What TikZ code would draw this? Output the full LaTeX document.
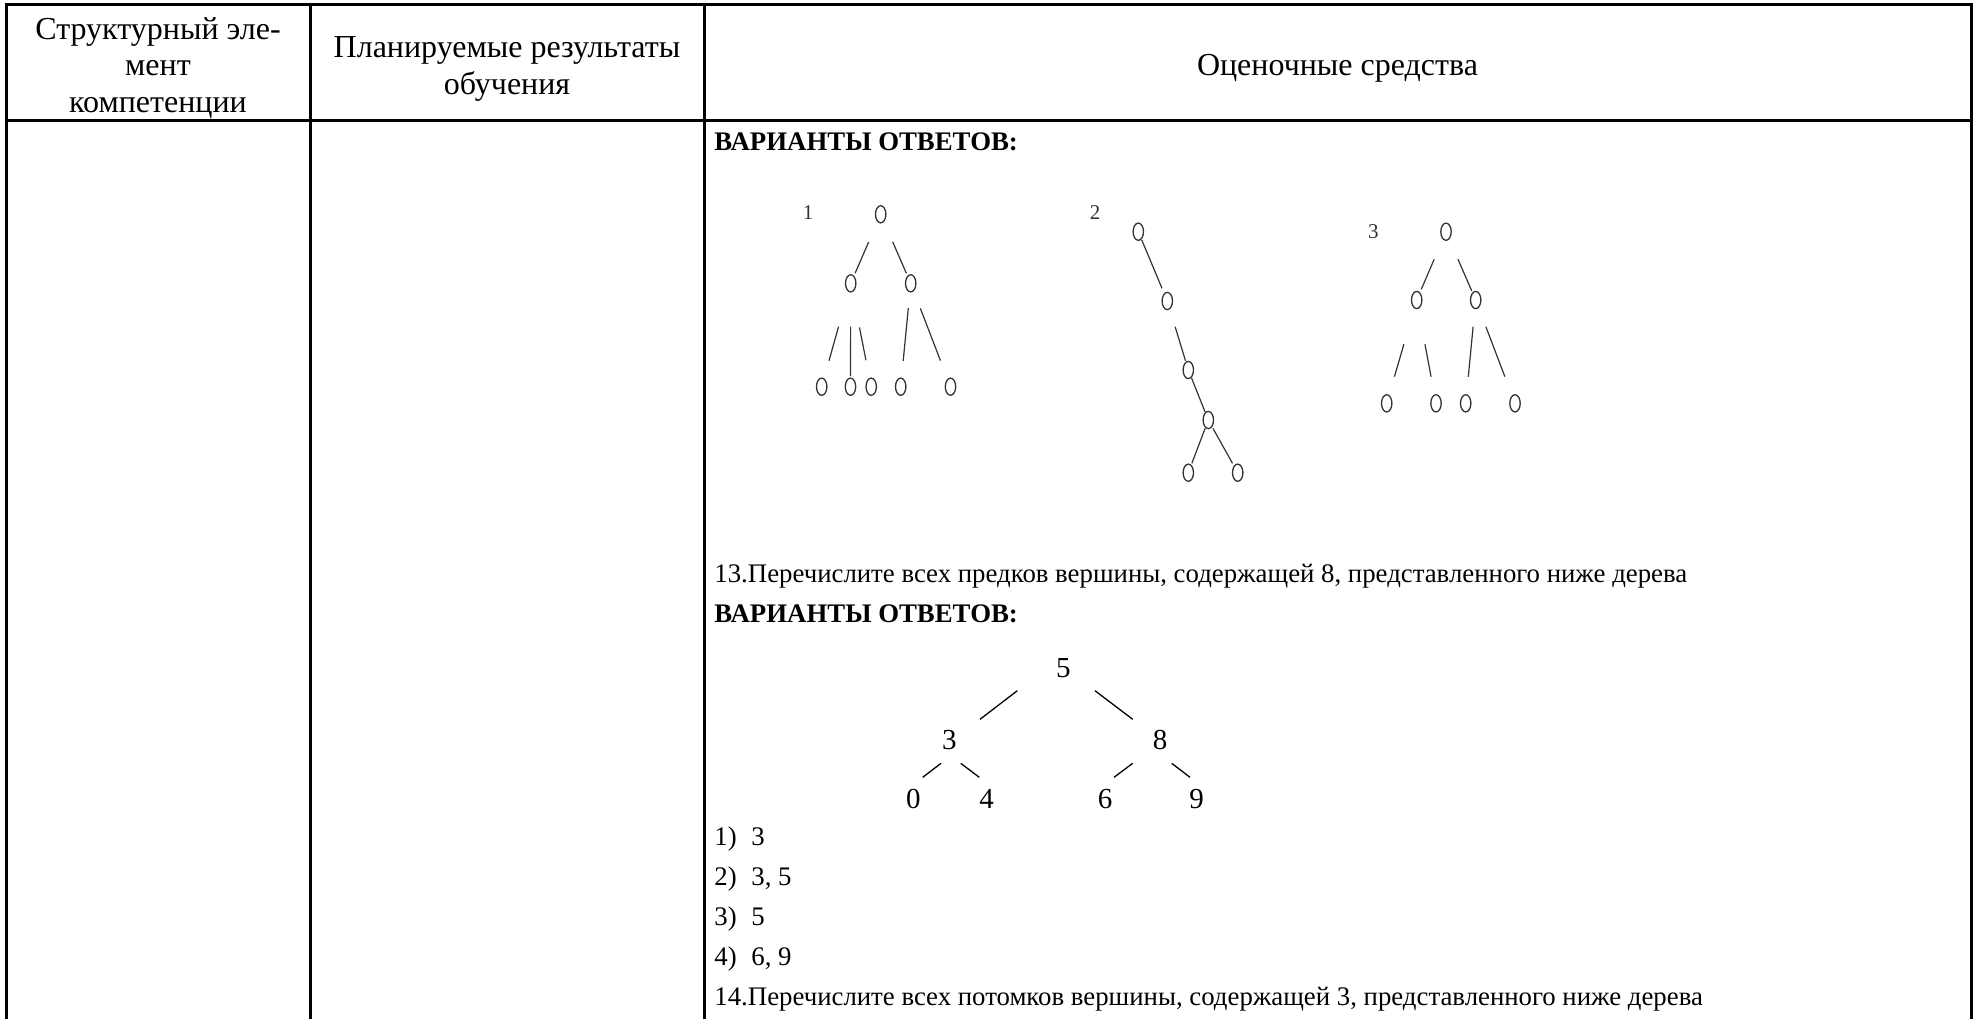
\documentclass[tikz,border=0pt]{standalone}
\usepackage{fontspec}
\setmainfont{Liberation Serif}
\usetikzlibrary{shapes.geometric}
\definecolor{ovgrey}{HTML}{333333}
\begin{document}
\begin{tikzpicture}[x=0.5pt,y=-0.5pt,
  grid/.style={line width=1.5pt, line join=miter},
  hdr/.style={align=center, font=\fontsize{16}{18.2}\selectfont, inner sep=0pt},
  bodytxt/.style={anchor=base west, font=\fontsize{13.4}{16}\selectfont, inner sep=0pt},
  bodybold/.style={anchor=base west, font=\fontsize{13.4}{16}\selectfont\bfseries, inner sep=0pt},
  ov/.style={ellipse, draw=ovgrey, line width=0.65pt, minimum width=5.2pt, minimum height=8.6pt, inner sep=0pt},
  tedge/.style={draw=ovgrey, line width=0.6pt},
  dig/.style={font=\fontsize{14.5}{14.5}\selectfont, inner sep=0pt},
  dedge/.style={line width=0.65pt},
  tlab/.style={font=\fontsize{10.5}{10.5}\selectfont, text=ovgrey, inner sep=0pt}
]
\useasboundingbox (0,0) rectangle (1975,1019);

% table grid
\draw[grid] (6,1019) -- (6,4.5) -- (1971,4.5) -- (1971,1019);
\draw[grid] (310.5,4.5) -- (310.5,1019);
\draw[grid] (704.3,4.5) -- (704.3,1019);
\draw[grid] (6,120.5) -- (1971,120.5);

% header
\node[hdr] (h1) at (158,68) {Структурный эле-\\мент\\компетенции};
\node[hdr] (h2) at (507,69) {Планируемые результаты\\обучения};
\node[hdr] (h3) at (1337.5,68.5) {Оценочные средства};

% body text
\node[bodybold] (v1) at (714,150) {ВАРИАНТЫ ОТВЕТОВ:};
\node[bodytxt] (q13) at (714,582) {13.Перечислите всех предков вершины, содержащей 8, представленного ниже дерева};
\node[bodybold] (v2) at (714,622) {ВАРИАНТЫ ОТВЕТОВ:};
\node[bodytxt] (a1) at (714,845) {\makebox[18.5pt][l]{1)}3};
\node[bodytxt] (a2) at (714,885) {\makebox[18.5pt][l]{2)}3, 5};
\node[bodytxt] (a3) at (714,925) {\makebox[18.5pt][l]{3)}5};
\node[bodytxt] (a4) at (714,965) {\makebox[18.5pt][l]{4)}6, 9};
\node[bodytxt] (q14) at (714,1005) {14.Перечислите всех потомков вершины, содержащей 3, представленного ниже дерева};

% tree 1
\node[tlab] (l1) at (808,213) {1};
\node[ov] (t1r) at (880.7,214.3) {};
\node[ov] (t1a) at (850.7,283.3) {};
\node[ov] (t1b) at (910.7,283.3) {};
\node[ov] (t1c) at (821.7,386.7) {};
\node[ov] (t1d) at (850.5,386.7) {};
\node[ov] (t1e) at (871.2,386.7) {};
\node[ov] (t1f) at (900.7,386.7) {};
\node[ov] (t1g) at (950.5,386.7) {};
\draw[tedge, shorten <=15pt, shorten >=5.5pt] (t1r.center) -- (t1a.center);
\draw[tedge, shorten <=15pt, shorten >=5.5pt] (t1r.center) -- (t1b.center);
\draw[tedge, shorten <=22.5pt, shorten >=13.5pt] (t1a.center) -- (t1c.center);
\draw[tedge, shorten <=21.7pt, shorten >=5.35pt] (t1a.center) -- (t1d.center);
\draw[tedge, shorten <=22.5pt, shorten >=13.5pt] (t1a.center) -- (t1e.center);
\draw[tedge, shorten <=12.5pt, shorten >=13pt] (t1b.center) -- (t1f.center);
\draw[tedge, shorten <=13.4pt, shorten >=14pt] (t1b.center) -- (t1g.center);

% tree 2
\node[tlab] (l2) at (1095,212.7) {2};
\node[ov] (t2a) at (1138.3,231.7) {};
\node[ov] (t2b) at (1167.3,301) {};
\node[ov] (t2c) at (1188.3,370) {};
\node[ov] (t2d) at (1208.3,420) {};
\node[ov] (t2e) at (1188.3,472.7) {};
\node[ov] (t2f) at (1237.7,472.7) {};
\draw[tedge, shorten <=4.5pt, shorten >=6.9pt] (t2a.center) -- (t2b.center);
\draw[tedge, shorten <=13.45pt, shorten >=4.85pt] (t2b.center) -- (t2c.center);
\draw[tedge, shorten <=4.45pt, shorten >=4.45pt] (t2c.center) -- (t2d.center);
\draw[tedge, shorten <=4.45pt, shorten >=5pt] (t2d.center) -- (t2e.center);
\draw[tedge, shorten <=4.75pt, shorten >=5.4pt] (t2d.center) -- (t2f.center);

% tree 3
\node[tlab] (l3) at (1373.3,231.7) {3};
\node[ov] (t3r) at (1446,231.7) {};
\node[ov] (t3a) at (1416.7,300) {};
\node[ov] (t3b) at (1475.7,300) {};
\node[ov] (t3c) at (1386.7,403.3) {};
\node[ov] (t3d) at (1436,403.3) {};
\node[ov] (t3e) at (1465.7,403.3) {};
\node[ov] (t3f) at (1515,403.3) {};
\draw[tedge, shorten <=15pt, shorten >=5.8pt] (t3r.center) -- (t3a.center);
\draw[tedge, shorten <=15pt, shorten >=5pt] (t3r.center) -- (t3b.center);
\draw[tedge, shorten <=23pt, shorten >=13.85pt] (t3a.center) -- (t3c.center);
\draw[tedge, shorten <=22.5pt, shorten >=13.5pt] (t3a.center) -- (t3d.center);
\draw[tedge, shorten <=13.4pt, shorten >=13.35pt] (t3b.center) -- (t3e.center);
\draw[tedge, shorten <=14.3pt, shorten >=14.25pt] (t3b.center) -- (t3f.center);

% tree for question 13
\node[dig] (n5) at (1063.3,668.3) {5};
\node[dig] (n3) at (949.3,740) {3};
\node[dig] (n8) at (1160,740) {8};
\node[dig] (n0) at (913.3,799.3) {0};
\node[dig] (n4) at (986.7,799.3) {4};
\node[dig] (n6) at (1105,799.3) {6};
\node[dig] (n9) at (1196.7,799.3) {9};
\coordinate (e1a) at (1017.3,690.7); \coordinate (e1b) at (980,719.3);
\coordinate (e2a) at (1095,690.7);   \coordinate (e2b) at (1132.7,719.3);
\coordinate (e3a) at (941,763.3);    \coordinate (e3b) at (922.7,777.3);
\coordinate (e4a) at (960.7,763.3);  \coordinate (e4b) at (979.3,777.3);
\coordinate (e5a) at (1132.7,763.3); \coordinate (e5b) at (1114,777.3);
\coordinate (e6a) at (1171.7,763.3); \coordinate (e6b) at (1190,777.3);
\draw[dedge] (e1a) -- (e1b);
\draw[dedge] (e2a) -- (e2b);
\draw[dedge] (e3a) -- (e3b);
\draw[dedge] (e4a) -- (e4b);
\draw[dedge] (e5a) -- (e5b);
\draw[dedge] (e6a) -- (e6b);
\end{tikzpicture}
\end{document}
